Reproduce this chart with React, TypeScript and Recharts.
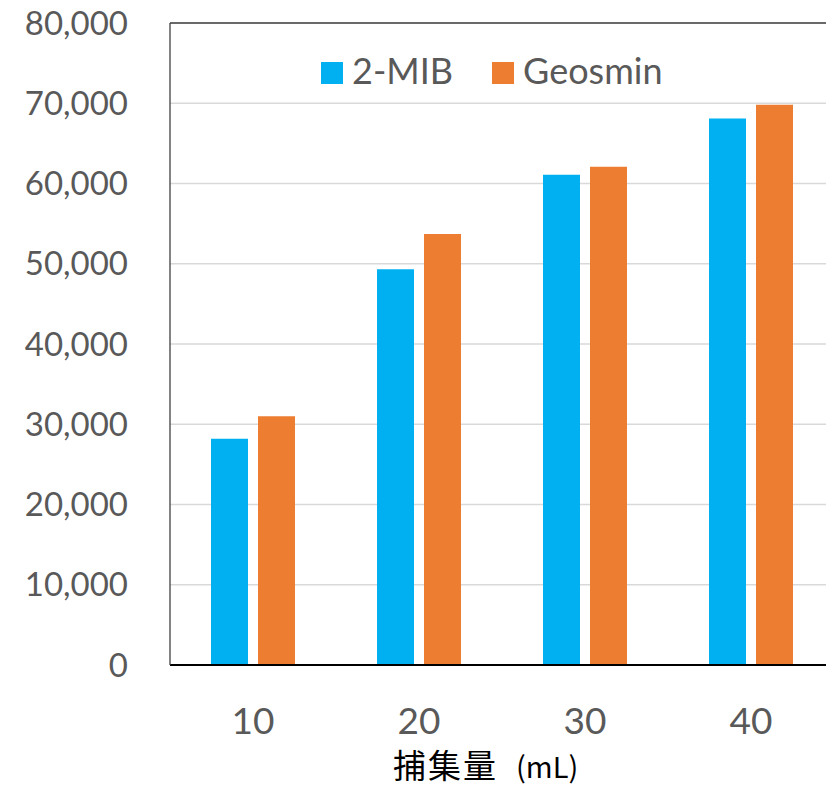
import { BarChart, Bar, XAxis, YAxis, CartesianGrid, Legend, ReferenceLine } from 'recharts'

// 捕集量 (mL) on the x axis, peak area on the y axis
const VOLUMES = ['10', '20', '30', '40']
const MIB_VALUES = [28200, 49300, 61100, 68100]
const GEOSMIN_VALUES = [31000, 53700, 62100, 69800]
const SERIES_NAMES = ['2-MIB', 'Geosmin']
const Y_TICKS = [0, 10000, 20000, 30000, 40000, 50000, 60000, 70000, 80000]
const X_TITLE_MAIN = '捕集量'
const X_TITLE_UNIT = '(mL)'

const COLORS = ['#00B0F0', '#ED7D31']
const TEXT_GREY = '#595959'

const rows = VOLUMES.map((volume, i) => ({
  volume,
  mib: MIB_VALUES[i],
  geosmin: GEOSMIN_VALUES[i],
}))

function LegendBox() {
  return (
    <div
      style={{
        display: 'flex',
        alignItems: 'center',
        height: 36,
        fontFamily: 'Lato, sans-serif',
        fontSize: 36,
        color: TEXT_GREY,
        whiteSpace: 'nowrap',
      }}
    >
      {SERIES_NAMES.map((name, i) => (
        <div
          key={name}
          style={{ display: 'flex', alignItems: 'center', marginRight: i === 0 ? 39 : 0 }}
        >
          <span style={{ display: 'inline-block', width: 22, height: 22, background: COLORS[i], marginRight: 9 }} />
          <span style={{ lineHeight: '36px', position: 'relative', top: -3 }}>{name}</span>
        </div>
      ))}
    </div>
  )
}

function AxisTitle(props: any) {
  const vb = props.viewBox || { x: 0, y: 0, width: 0, height: 0 }
  const left = vb.x + vb.width / 2 - 109
  return (
    <text x={left} y={vb.y + 113} textAnchor="start" fill="#000000" fontFamily="'Noto Sans CJK JP', sans-serif">
      <tspan fontSize={33} letterSpacing={2}>{X_TITLE_MAIN}</tspan>
      <tspan fontSize={29} dx={18}>{X_TITLE_UNIT}</tspan>
    </text>
  )
}

export default function App() {
  return (
    <div
      style={{
        position: 'absolute',
        left: 0,
        top: 0,
        width: 826,
        height: 795,
        overflow: 'hidden',
        background: '#ffffff',
      }}
    >
      <BarChart
        width={840}
        height={795}
        data={rows}
        margin={{ top: 23, right: 6, bottom: 0, left: 0 }}
        barGap={10}
      >
        <CartesianGrid vertical={false} stroke="#d9d9d9" strokeWidth={1.5} />
        <XAxis
          dataKey="volume"
          height={130}
          tickLine={false}
          tickSize={0}
          tickMargin={43}
          axisLine={{ stroke: '#000000', strokeWidth: 2 }}
          tick={{ fontSize: 37, fill: TEXT_GREY, fontFamily: 'Lato, sans-serif' }}
          label={<AxisTitle />}
        />
        <YAxis
          width={170}
          domain={[0, 80000]}
          ticks={Y_TICKS}
          interval={0}
          tickLine={false}
          tickSize={0}
          tickMargin={42}
          axisLine={{ stroke: '#404040', strokeWidth: 1.3 }}
          tick={{ fontSize: 33, fill: TEXT_GREY, fontFamily: 'Lato, sans-serif' }}
          tickFormatter={(v: number) => v.toLocaleString('en-US')}
        />
        <ReferenceLine y={80000} stroke="#404040" strokeWidth={1.3} />
        <Legend
          layout="horizontal"
          verticalAlign="middle"
          align="center"
          wrapperStyle={{ top: 55, left: 321, width: 'auto' }}
          content={() => <LegendBox />}
        />
        <Bar dataKey="mib" name={SERIES_NAMES[0]} fill={COLORS[0]} barSize={37} isAnimationActive={false} />
        <Bar dataKey="geosmin" name={SERIES_NAMES[1]} fill={COLORS[1]} barSize={37} isAnimationActive={false} />
      </BarChart>
    </div>
  )
}
